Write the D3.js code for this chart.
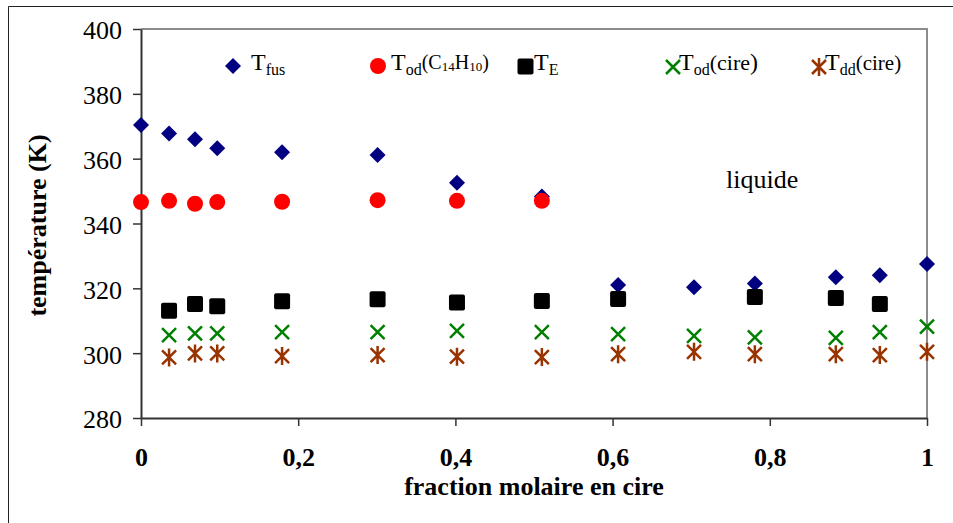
<!DOCTYPE html>
<html>
<head>
<meta charset="utf-8">
<script src="https://cdn.jsdelivr.net/npm/d3@7"></script>
<style>
  html, body { margin: 0; padding: 0; background: #fff; }
  svg { display: block; }
  text { font-family: "Liberation Serif", "Times New Roman", serif; fill: #000; }
</style>
</head>
<body>
<svg id="chart" width="953" height="523"></svg>
<script>
// ---- data ----
const xFus = [0, 0.0357, 0.0687, 0.097, 0.1795, 0.301, 0.402, 0.510, 0.607, 0.7036, 0.781, 0.884, 0.940, 1];
const tFus = [370.4, 367.8, 366.0, 363.2, 362.0, 361.1, 352.6, 348.3, 321.0, 320.3, 321.5, 323.4, 324.0, 327.5];

const xOdC14 = [0, 0.0357, 0.0687, 0.097, 0.1795, 0.301, 0.402, 0.510];
const tOdC14 = [346.6, 347.0, 346.1, 346.6, 346.7, 347.2, 347.0, 347.0];

const xE = [0.0357, 0.0687, 0.097, 0.1795, 0.301, 0.402, 0.510, 0.607, 0.781, 0.884, 0.940];
const tE = [313.1, 315.2, 314.5, 316.0, 316.6, 315.6, 316.1, 316.7, 317.3, 317.0, 315.2];

const xCire = [0.0357, 0.0687, 0.097, 0.1795, 0.301, 0.402, 0.510, 0.607, 0.7036, 0.781, 0.884, 0.940, 1];
const tOdCire = [305.6, 306.1, 306.1, 306.5, 306.5, 306.9, 306.5, 305.9, 305.3, 304.9, 304.7, 306.5, 308.2];
const tDdCire = [298.7, 299.9, 299.9, 299.1, 299.4, 298.9, 298.8, 299.7, 300.4, 299.7, 299.7, 299.4, 300.4];

const yTicks = [280, 300, 320, 340, 360, 380, 400];
const xTicks = [0, 0.2, 0.4, 0.6, 0.8, 1];
const xTickLabels = ["0", "0,2", "0,4", "0,6", "0,8", "1"];

const colors = { fus: "#000080", odC14: "#ff0000", E: "#000000", odCire: "#008000", ddCire: "#993300" };

// ---- layout ----
const svg = d3.select("#chart");
const L = 141, R = 927, T = 29, B = 418;
const x = d3.scaleLinear().domain([0, 1]).range([L, R]);
const y = d3.scaleLinear().domain([280, 400]).range([B, T]);

// outer frame (left + top visible)
svg.append("path").attr("d", "M8.5,523 L8.5,6.5 L953,6.5")
  .attr("fill", "none").attr("stroke", "#222").attr("stroke-width", 1);

// plot area top / right borders (grey)
svg.append("path").attr("d", `M${L},${T} L${R},${T} L${R},${B}`)
  .attr("fill", "none").attr("stroke", "#8c8c8c").attr("stroke-width", 2);

// y axis
const yAxis = svg.append("g").attr("transform", `translate(${L},0)`)
  .call(d3.axisLeft(y).tickValues(yTicks).tickSize(8).tickSizeOuter(0).tickPadding(11).tickFormat(d3.format("d")));
yAxis.selectAll("text").attr("font-size", 26).attr("dy", "0.38em")
  .attr("font-family", "'Liberation Serif', 'Times New Roman', serif");
yAxis.select(".domain").attr("stroke", "#333").attr("stroke-width", 2);
yAxis.selectAll(".tick line").attr("stroke", "#333").attr("stroke-width", 1.5);

// x axis
const xAxis = svg.append("g").attr("transform", `translate(0,${B})`)
  .call(d3.axisBottom(x).tickValues(xTicks).tickSize(8).tickSizeOuter(0).tickPadding(22)
    .tickFormat((d, i) => xTickLabels[i]));
xAxis.selectAll("text").attr("font-size", 26).attr("font-weight", "bold")
  .attr("font-family", "'Liberation Serif', 'Times New Roman', serif");
xAxis.select(".domain").attr("stroke", "#333").attr("stroke-width", 2);
xAxis.selectAll(".tick line").attr("stroke", "#333").attr("stroke-width", 1.5);

// axis titles
svg.append("text").attr("x", 534).attr("y", 495).attr("text-anchor", "middle")
  .attr("font-size", 26).attr("font-weight", "bold").text("fraction molaire en cire");
svg.append("text").attr("transform", "translate(46,225.5) rotate(-90)").attr("text-anchor", "middle")
  .attr("font-size", 26).attr("font-weight", "bold").text("température (K)");

// region label
svg.append("text").attr("x", 726).attr("y", 188).attr("font-size", 26).text("liquide");

// ---- marker drawing helpers ----
function diamond(g, cx, cy, c) {
  const h = 8;
  g.append("path").attr("d", `M${cx},${cy - h} L${cx + h},${cy} L${cx},${cy + h} L${cx - h},${cy} Z`).attr("fill", c);
}
function circle(g, cx, cy, c) {
  g.append("circle").attr("cx", cx).attr("cy", cy).attr("r", 8).attr("fill", c);
}
function square(g, cx, cy, c) {
  const s = 16;
  g.append("rect").attr("x", cx - s / 2).attr("y", cy - s / 2).attr("width", s).attr("height", s)
    .attr("rx", 2).attr("fill", c);
}
function cross(g, cx, cy, c) {
  const h = 7;
  g.append("path").attr("d", `M${cx - h},${cy - h} L${cx + h},${cy + h} M${cx - h},${cy + h} L${cx + h},${cy - h}`)
    .attr("stroke", c).attr("stroke-width", 2.5).attr("fill", "none");
}
function star(g, cx, cy, c) {
  const h = 7, v = 9;
  g.append("path").attr("d", `M${cx - h},${cy - h} L${cx + h},${cy + h} M${cx - h},${cy + h} L${cx + h},${cy - h} M${cx},${cy - v} L${cx},${cy + v}`)
    .attr("stroke", c).attr("stroke-width", 2.5).attr("fill", "none");
}

const marks = svg.append("g");
xFus.forEach((v, i) => diamond(marks, x(v), y(tFus[i]), colors.fus));
xOdC14.forEach((v, i) => circle(marks, x(v), y(tOdC14[i]), colors.odC14));
xE.forEach((v, i) => square(marks, x(v), y(tE[i]), colors.E));
xCire.forEach((v, i) => cross(marks, x(v), y(tOdCire[i]), colors.odCire));
xCire.forEach((v, i) => star(marks, x(v), y(tDdCire[i]), colors.ddCire));

// ---- legend ----
const lg = svg.append("g");
diamond(lg, 233, 66, colors.fus);
circle(lg, 378, 66, colors.odC14);
square(lg, 525.5, 66.5, colors.E);
cross(lg, 673, 67, colors.odCire);
star(lg, 819, 67, colors.ddCire);

function legendText(xp, parts) {
  const t = lg.append("text").attr("x", xp).attr("y", 69.5);
  parts.forEach(p => {
    const s = t.append("tspan").attr("font-size", p.size).text(p.text);
    if (p.dy !== undefined) s.attr("dy", p.dy);
  });
}
legendText(251, [
  { text: "T", size: 24 },
  { text: "fus", size: 16, dy: 5 }
]);
legendText(391, [
  { text: "T", size: 24 },
  { text: "od", size: 16, dy: 5 },
  { text: "(C", size: 20, dy: -6 },
  { text: "14", size: 13, dy: 2 },
  { text: "H", size: 20, dy: -2 },
  { text: "10", size: 13, dy: 2 },
  { text: ")", size: 20, dy: -2 }
]);
legendText(534, [
  { text: "T", size: 24 },
  { text: "E", size: 16, dy: 5 }
]);
legendText(679, [
  { text: "T", size: 24 },
  { text: "od", size: 16, dy: 5 },
  { text: "(cire", size: 22, dy: -5 },
  { text: ")", size: 24 }
]);
legendText(825, [
  { text: "T", size: 24 },
  { text: "dd", size: 16, dy: 5 },
  { text: "(cire)", size: 21, dy: -5 }
]);
</script>
</body>
</html>
